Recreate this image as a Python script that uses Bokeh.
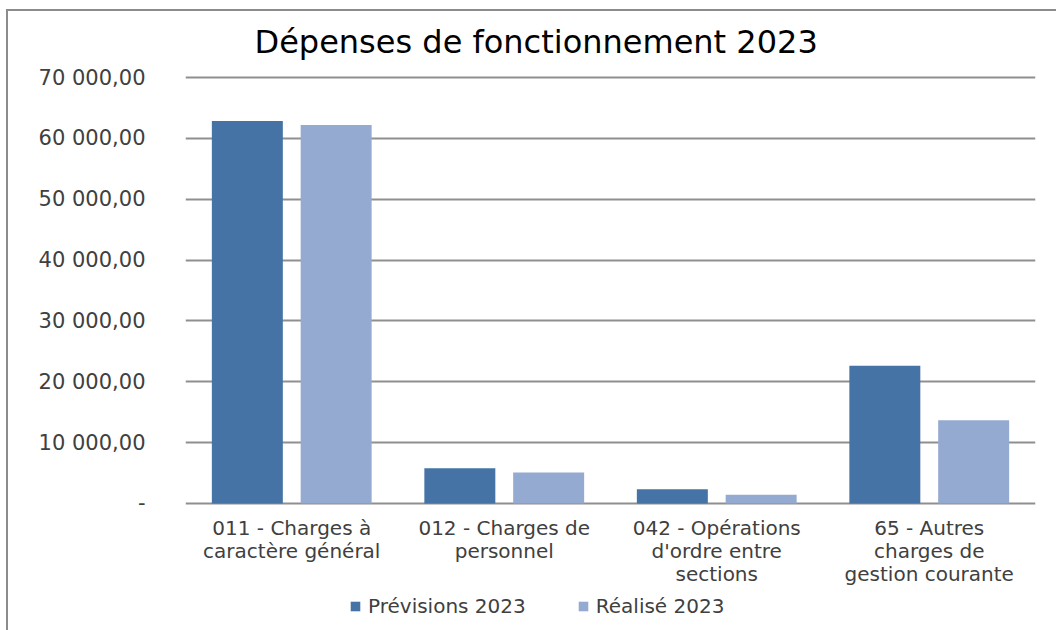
from bokeh.plotting import figure
from bokeh.layouts import column
from bokeh.models import (ColumnDataSource, FactorRange, Range1d, FixedTicker,
                          Legend, LegendItem)
from bokeh.transform import dodge
from bokeh.embed import file_html
from bokeh.resources import INLINE

categories = [
    "011 - Charges à\ncaractère général",
    "012 - Charges de\npersonnel",
    "042 - Opérations\nd'ordre entre\nsections",
    "65 - Autres\ncharges de\ngestion courante",
]
previsions_2023 = [62850, 5800, 2350, 22620]
realise_2023 = [62200, 5100, 1420, 13660]
y_ticks = [0, 10000, 20000, 30000, 40000, 50000, 60000, 70000]
y_tick_labels = ["-", "10 000,00", "20 000,00", "30 000,00", "40 000,00",
                 "50 000,00", "60 000,00", "70 000,00"]
series_names = ["Prévisions 2023", "Réalisé 2023"]
colors = ["#4573A5", "#95AAD1"]

source = ColumnDataSource(dict(cat=categories, prev=previsions_2023, real=realise_2023))

FONT = "DejaVu Sans"
BORDER = "#8c8c8c"
grad = f"linear-gradient({BORDER}, {BORDER})"

p = figure(x_range=FactorRange(*categories, range_padding=0),
           y_range=Range1d(-330, 70330),
           width=1056, height=592,
           output_backend="svg", toolbar_location=None,
           min_border_left=185, min_border_right=21, min_border_top=75,
           min_border_bottom=87)
p.outline_line_color = None
p.border_fill_color = None
p.background_fill_color = None
p.styles = {"background-color": "white",
            "background-image": f"{grad}, {grad}",
            "background-size": "2px 100%, 100% 2px",
            "background-position": "6px 9px, 6px 9px",
            "background-repeat": "no-repeat"}

p.title.text = "Dépenses de fonctionnement 2023"
p.title.text_font = FONT
p.title.text_font_size = "32px"
p.title.text_font_style = "normal"
p.title.text_color = "#000000"
p.title.align = "left"
p.title.offset = 69
p.title.standoff = 29

r1 = p.vbar(x=dodge("cat", -0.209, range=p.x_range), top="prev", width=0.334,
            source=source, color=colors[0], line_color=None)
r2 = p.vbar(x=dodge("cat", 0.209, range=p.x_range), top="real", width=0.334,
            source=source, color=colors[1], line_color=None)

p.xgrid.grid_line_color = None
p.ygrid.grid_line_color = "#8f8f8f"
p.ygrid.grid_line_width = 2
p.ygrid.ticker = FixedTicker(ticks=y_ticks)
p.ygrid.level = "underlay"

p.yaxis.ticker = FixedTicker(ticks=y_ticks)
p.yaxis.major_label_overrides = {t: l for t, l in zip(y_ticks, y_tick_labels)}
p.yaxis.axis_line_color = None
p.yaxis.major_tick_line_color = None
p.yaxis.minor_tick_line_color = None
p.yaxis.major_label_standoff = 34
p.yaxis.major_label_text_font = FONT
p.yaxis.major_label_text_font_size = "21px"
p.yaxis.major_label_text_color = "#404040"

p.xaxis.axis_line_color = None
p.xaxis.major_tick_line_color = None
p.xaxis.major_label_standoff = 4
p.xaxis.major_label_text_font = FONT
p.xaxis.major_label_text_font_size = "20px"
p.xaxis.major_label_text_color = "#404040"
p.xaxis.major_label_text_line_height = 0.96

# legend strip below the chart
lg = figure(width=1056, height=38, x_range=Range1d(0, 1), y_range=Range1d(0, 1),
            output_backend="svg", toolbar_location=None,
            x_axis_type=None, y_axis_type=None,
            min_border_left=185, min_border_right=21, min_border_top=0,
            min_border_bottom=0)
lg.outline_line_color = None
lg.border_fill_color = None
lg.background_fill_color = None
lg.styles = {"background-color": "white",
             "background-image": grad,
             "background-size": "2px 100%",
             "background-position": "6px 0px",
             "background-repeat": "no-repeat"}
lg.xgrid.grid_line_color = None
lg.ygrid.grid_line_color = None
e1 = lg.vbar(x=[-5], top=[-5], width=0.1, color=colors[0], line_color=None)
e2 = lg.vbar(x=[-5], top=[-5], width=0.1, color=colors[1], line_color=None)

legend = Legend(items=[LegendItem(label=series_names[0], renderers=[e1]),
                       LegendItem(label=series_names[1], renderers=[e2])],
                orientation="horizontal", location=(164, 12),
                glyph_width=12, glyph_height=12, label_standoff=7, spacing=51,
                label_text_font=FONT, label_text_font_size="20px",
                label_text_color="#404040", border_line_color=None,
                background_fill_alpha=0, padding=0, margin=0)
lg.add_layout(legend, "center")

layout = column(p, lg, spacing=0)
open("out.html", "w").write(file_html(layout, INLINE))
